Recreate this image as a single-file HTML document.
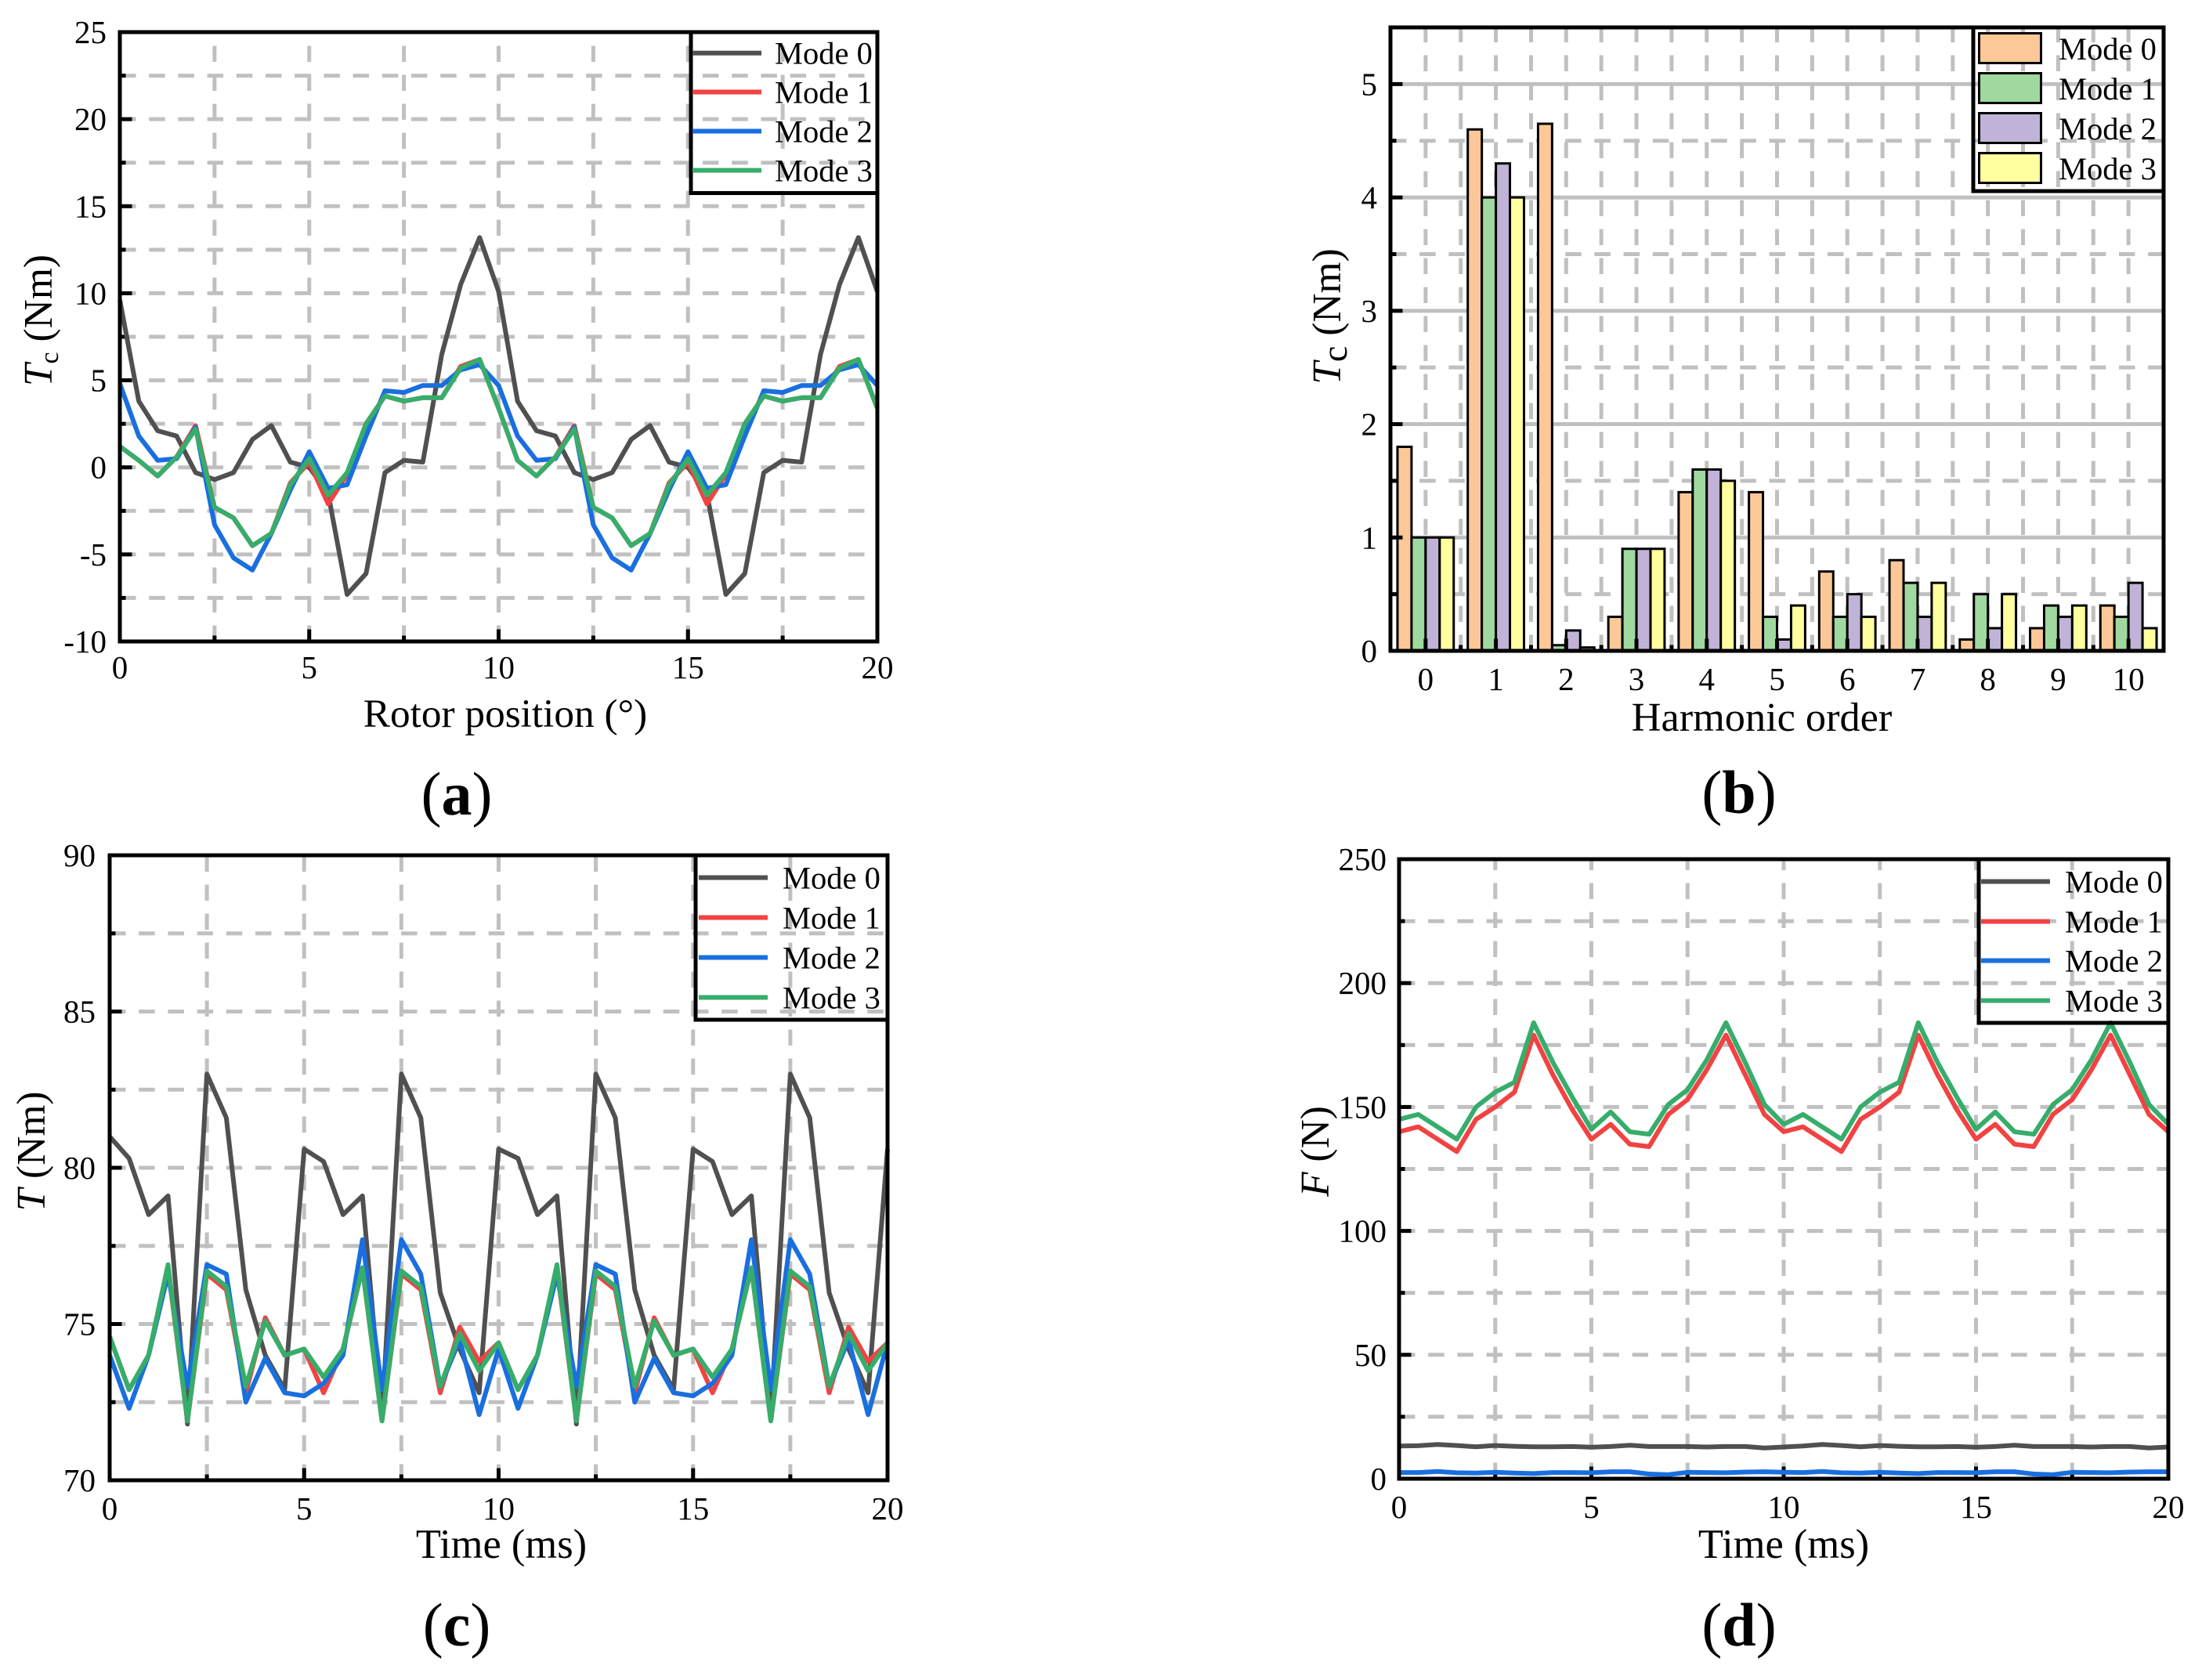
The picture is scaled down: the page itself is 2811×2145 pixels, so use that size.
<!DOCTYPE html>
<html lang="en">
<head>
<meta charset="utf-8">
<title>Torque and force comparison of four modes</title>
<style>
html,body{margin:0;padding:0;background:#fff;}
#figure{display:block;width:2811px;height:2145px;font-family:"Liberation Serif",serif;}
text{font-family:"Liberation Serif",serif;fill:#000;}
</style>
</head>
<body>
<svg id="figure" xmlns="http://www.w3.org/2000/svg" width="2811" height="2145" viewBox="0 0 2811 2145"></svg>
<script>
const modeNames = ["Mode 0", "Mode 1", "Mode 2", "Mode 3"];
const lineColors = ["#505050", "#f24242", "#1a6fdf", "#37ad6b"];
const barColors = ["#fdc897", "#a0d99f", "#c1b3d7", "#ffff9f"];

const sampleX = [0,0.5,1,1.5,2,2.5,3,3.5,4,4.5,5,5.5,6,6.5,7,7.5,8,8.5,9,9.5,10,10.5,11,11.5,12,12.5,13,13.5,14,14.5,15,15.5,16,16.5,17,17.5,18,18.5,19,19.5,20];

const aMode0 = [9.6,3.8,2.1,1.8,-0.3,-0.7,-0.3,1.6,2.4,0.3,0,-1.5,-7.3,-6.1,-0.3,0.4,0.3,6.5,10.5,13.2,10.1,3.8,2.1,1.8,-0.3,-0.7,-0.3,1.6,2.4,0.3,0,-1.5,-7.3,-6.1,-0.3,0.4,0.3,6.5,10.5,13.2,10.1];
const aMode1 = [1.2,0.4,-0.5,0.6,2.4,-2.3,-2.9,-4.5,-3.8,-0.9,0.3,-2.1,-0.4,2.5,4.1,3.8,4,4,5.8,6.2,3.4,0.4,-0.5,0.6,2.4,-2.3,-2.9,-4.5,-3.8,-0.9,0.3,-2.1,-0.4,2.5,4.1,3.8,4,4,5.8,6.2,3.4];
const aMode2 = [4.8,1.8,0.4,0.5,2.3,-3.3,-5.2,-5.9,-3.8,-1.3,0.9,-1.2,-1,1.8,4.4,4.3,4.7,4.7,5.6,5.9,4.7,1.8,0.4,0.5,2.3,-3.3,-5.2,-5.9,-3.8,-1.3,0.9,-1.2,-1,1.8,4.4,4.3,4.7,4.7,5.6,5.9,4.7];
const aMode3 = [1.2,0.4,-0.5,0.6,2.2,-2.3,-2.9,-4.5,-3.8,-1,0.5,-1.6,-0.3,2.5,4.1,3.8,4,4,5.7,6.2,3.4,0.4,-0.5,0.6,2.2,-2.3,-2.9,-4.5,-3.8,-1,0.5,-1.6,-0.3,2.5,4.1,3.8,4,4,5.7,6.2,3.4];

const harmonicOrders = ["0","1","2","3","4","5","6","7","8","9","10"];
const bMode0 = [1.8,4.6,4.65,0.3,1.4,1.4,0.7,0.8,0.1,0.2,0.4];
const bMode1 = [1,4,0.05,0.9,1.6,0.3,0.3,0.6,0.5,0.4,0.3];
const bMode2 = [1,4.3,0.18,0.9,1.6,0.1,0.5,0.3,0.2,0.3,0.6];
const bMode3 = [1,4,0.03,0.9,1.5,0.4,0.3,0.6,0.5,0.4,0.2];

const cMode0 = [81,80.3,78.5,79.1,71.8,83,81.6,76.1,74,72.9,80.6,80.2,78.5,79.1,72,83,81.6,76,74.2,72.8,80.6,80.3,78.5,79.1,71.8,83,81.6,76.1,74,72.9,80.6,80.2,78.5,79.1,72,83,81.6,76,74.2,72.8,80.6];
const cMode1 = [74.6,72.9,74,76.8,71.9,76.6,76.1,72.8,75.2,74,74.2,72.8,74.2,76.8,71.9,76.6,76.1,72.8,74.9,73.8,74.4,72.9,74,76.8,71.9,76.6,76.1,72.8,75.2,74,74.2,72.8,74.2,76.8,71.9,76.6,76.1,72.8,74.9,73.8,74.4];
const cMode2 = [74,72.3,74,76.6,73,76.9,76.6,72.5,73.9,72.8,72.7,73.1,74,77.7,72.9,77.7,76.6,73,74.5,72.1,74.2,72.3,74,76.6,73,76.9,76.6,72.5,73.9,72.8,72.7,73.1,74,77.7,72.9,77.7,76.6,73,74.5,72.1,74.4];
const cMode3 = [74.6,72.9,74,76.9,71.9,76.7,76.2,73,75.1,74,74.2,73.3,74.2,76.8,71.9,76.7,76.2,73,74.7,73.5,74.4,72.9,74,76.9,71.9,76.7,76.2,73,75.1,74,74.2,73.3,74.2,76.8,71.9,76.7,76.2,73,74.7,73.5,74.4];

const dMode0 = [13.2,13.3,13.8,13.4,12.9,13.4,13.1,12.9,12.9,13,12.7,13,13.5,13,13,13,12.8,13,13,12.4,12.8,13.2,13.8,13.4,12.9,13.4,13.1,12.9,12.9,13,12.7,13,13.5,13,13,13,12.8,13,13,12.4,12.8];
const dMode1 = [140,142,137,132,145,150,156,179,163,149,137,143,135,134,147,153,165,179,163,147,140,142,137,132,145,150,156,179,163,149,137,143,135,134,147,153,165,179,163,147,140];
const dMode2 = [2.5,2.5,2.9,2.4,2.3,2.6,2.3,2.1,2.5,2.5,2.4,2.8,2.8,1.9,1.6,2.6,2.5,2.4,2.7,2.8,2.6,2.5,2.9,2.4,2.3,2.6,2.3,2.1,2.5,2.5,2.4,2.8,2.8,1.9,1.6,2.6,2.5,2.4,2.7,2.8,2.8];
const dMode3 = [145,147,142,137,150,156,160,184,168,154,141,148,140,139,151,157,169,184,168,151,143,147,142,137,150,156,160,184,168,154,141,148,140,139,151,157,169,184,168,151,143];

const aMajorY = [-10,-5,0,5,10,15,20,25];
const aMinorY = [-7.5,-2.5,2.5,7.5,12.5,17.5,22.5];
const bMajorY = [0,1,2,3,4,5];
const bMinorY = [0.5,1.5,2.5,3.5,4.5];
const cMajorY = [70,75,80,85,90];
const cMinorY = [72.5,77.5,82.5,87.5];
const dMajorY = [0,50,100,150,200,250];
const dMinorY = [25,75,125,175,225];
const majorX = [0,5,10,15,20];
const minorX = [2.5,7.5,12.5,17.5];

const SVG_NS = "http://www.w3.org/2000/svg";
const root = document.getElementById("figure");

function add(parent, tag, attrs) {
  const node = document.createElementNS(SVG_NS, tag);
  for (const k in attrs) node.setAttribute(k, attrs[k]);
  parent.appendChild(node);
  return node;
}
function linear(d0, d1, r0, r1) {
  return v => r0 + (v - d0) * (r1 - r0) / (d1 - d0);
}
const GRID = "#c0c0c0";
const AXIS_W = 5;
const LINE_W = 6;
const MAJOR_LEN = 15.5;
const MINOR_LEN = 7.5;

function drawGridX(g, x, box) {
  const el = add(g, "line", {x1:x, x2:x, y1:box.b, y2:box.t, stroke:GRID, "stroke-width":5, "stroke-dasharray":"20.5 16.5"});
  
  
}
function drawGridY(g, y, box, solid) {
  const attrs = {x1:box.l, x2:box.r, y1:y, y2:y, stroke:GRID, "stroke-width":5};
  if (!solid) attrs["stroke-dasharray"] = "20.5 16.7";
  const el = add(g, "line", attrs);
  
  
}
function drawTick(g, x1, y1, x2, y2, name) {
  const el = add(g, "line", {x1, y1, x2, y2, stroke:"#000", "stroke-width":AXIS_W});
  
  
}
function drawLabel(g, x, y, str, size, anchor, name) {
  const el = add(g, "text", {x, y, "font-size":size, "text-anchor":anchor});
  el.textContent = str;
  
  
  return el;
}
function drawFrame(g, box) {
  const el = add(g, "rect", {x:box.l, y:box.t, width:box.r-box.l, height:box.b-box.t, fill:"none", stroke:"#000", "stroke-width":AXIS_W});
  
  
}
function drawYTitle(g, x, y, symbol, sub, unit, subSize, subWeight) {
  const el = add(g, "text", {transform:"translate("+x+","+y+") rotate(-90)", "font-size":51.5, "text-anchor":"middle"});
  
  
  const s1 = add(el, "tspan", {"font-style":"italic"});
  s1.textContent = symbol;
  if (sub) {
    const s2 = add(el, "tspan", {"font-size":subSize, dy:8, "font-weight":subWeight});
    s2.textContent = sub;
    const s3 = add(el, "tspan", {dy:-8});
    s3.textContent = " " + unit;
  } else {
    const s3 = add(el, "tspan", {});
    s3.textContent = " " + unit;
  }
}
function drawCaption(g, x, y, letter) {
  const el = add(g, "text", {x, y, "font-size":78, "text-anchor":"middle"});
  
  
  const a = add(el, "tspan", {}); a.textContent = "(";
  const b = add(el, "tspan", {"font-weight":"bold"}); b.textContent = letter;
  const c = add(el, "tspan", {}); c.textContent = ")";
}
function drawLineLegend(g, cfg) {
  const box = add(g, "rect", {x:cfg.l, y:cfg.t, width:cfg.r-cfg.l, height:cfg.b-cfg.t, fill:"none", stroke:"#000", "stroke-width":AXIS_W});
  
  
  modeNames.forEach((name, i) => {
    const y = cfg.rows[i];
    const ln = add(g, "line", {x1:cfg.lx0, x2:cfg.lx1, y1:y, y2:y, stroke:lineColors[i], "stroke-width":LINE_W});
    
    
    drawLabel(g, cfg.tx, y + 14, name, 40.5, "start", "legend-label");
  });
}

function linePanel(cfg) {
  const g = add(root, "g", {});
  
  
  const box = cfg.box;
  const sx = linear(0, 20, box.l, box.r);
  const sy = linear(cfg.yMin, cfg.yMax, box.b, box.t);
  cfg.minorY.concat(cfg.majorY).forEach(v => { if (v > cfg.yMin && v < cfg.yMax) drawGridY(g, sy(v), box, false); });
  minorX.concat(majorX).forEach(v => { if (v > 0 && v < 20) drawGridX(g, sx(v), box); });
  majorX.forEach(v => drawTick(g, sx(v), box.b, sx(v), box.b - MAJOR_LEN, "x-major-tick"));
  minorX.forEach(v => drawTick(g, sx(v), box.b, sx(v), box.b - MINOR_LEN, "x-minor-tick"));
  cfg.majorY.forEach(v => drawTick(g, box.l, sy(v), box.l + MAJOR_LEN, sy(v), "y-major-tick"));
  cfg.minorY.forEach(v => drawTick(g, box.l, sy(v), box.l + MINOR_LEN, sy(v), "y-minor-tick"));
  cfg.series.forEach((vals, i) => {
    const pts = vals.map((v, j) => sx(sampleX[j]).toFixed(1) + "," + sy(v).toFixed(1)).join(" ");
    const pl = add(g, "polyline", {points:pts, fill:"none", stroke:lineColors[i], "stroke-width":LINE_W, "stroke-linejoin":"round"});
    
    
  });
  drawFrame(g, box);
  majorX.forEach(v => drawLabel(g, sx(v), cfg.xLabelY, String(v), 41, "middle", "x-tick-label"));
  cfg.majorY.forEach(v => drawLabel(g, cfg.yLabelX, sy(v) + 14, String(v), 41, "end", "y-tick-label"));
  drawLabel(g, cfg.xTitleX, cfg.xTitleY, cfg.xTitle, cfg.xTitleSize, "middle", "x-axis-title");
  drawYTitle(g, cfg.yTitleX, cfg.yTitleY, cfg.ySym, cfg.ySub, cfg.yUnit, 34, "normal");
  drawLineLegend(g, cfg.legend);
  drawCaption(g, cfg.capX, cfg.capY, cfg.letter);
}

linePanel({
  name:"panel-a-cogging-torque", letter:"a", box:{l:153, r:1120, t:41, b:819},
  yMin:-10, yMax:25, majorY:aMajorY, minorY:aMinorY,
  series:[aMode0, aMode1, aMode2, aMode3],
  xLabelY:866, yLabelX:136, xTitle:"Rotor position (°)", xTitleSize:51.3, xTitleX:645, xTitleY:928,
  yTitleX:66, yTitleY:409, ySym:"T", ySub:"c", yUnit:"(Nm)",
  legend:{l:882, r:1120, t:41, b:246.5, lx0:884, lx1:972, tx:989, rows:[67.7,117.5,167.5,217.5]},
  capX:583, capY:1040
});

linePanel({
  name:"panel-c-output-torque", letter:"c", box:{l:140, r:1133, t:1092, b:1890},
  yMin:70, yMax:90, majorY:cMajorY, minorY:cMinorY,
  series:[cMode0, cMode1, cMode2, cMode3],
  xLabelY:1940, yLabelX:122, xTitle:"Time (ms)", xTitleSize:52.5, xTitleX:640, xTitleY:1989,
  yTitleX:57, yTitleY:1470, ySym:"T", ySub:"", yUnit:"(Nm)",
  legend:{l:888, r:1133, t:1092, b:1302, lx0:892, lx1:980, tx:999, rows:[1120.5,1171.5,1222.5,1273.5]},
  capX:583, capY:2101
});

linePanel({
  name:"panel-d-force", letter:"d", box:{l:1786, r:2768, t:1097, b:1888},
  yMin:0, yMax:250, majorY:dMajorY, minorY:dMinorY,
  series:[dMode0, dMode1, dMode2, dMode3],
  xLabelY:1938, yLabelX:1770, xTitle:"Time (ms)", xTitleSize:52.5, xTitleX:2277, xTitleY:1989,
  yTitleX:1696, yTitleY:1470, ySym:"F", ySub:"", yUnit:"(N)",
  legend:{l:2526, r:2768, t:1097, b:1306, lx0:2529, lx1:2617, tx:2636, rows:[1125.5,1176.5,1226.5,1277.5]},
  capX:2220, capY:2101
});

(function barPanel() {
  const g = add(root, "g", {});
  
  
  const box = {l:1775, r:2762, t:35, b:831};
  const sx = linear(-0.5, 10.5, box.l, box.r);
  const sy = linear(0, 5.5, box.b, box.t);
  const series = [bMode0, bMode1, bMode2, bMode3];
  const barW = 0.2;
  bMajorY.forEach(v => { if (v > 0) drawGridY(g, sy(v), box, true); });
  bMinorY.forEach(v => drawGridY(g, sy(v), box, false));
  harmonicOrders.forEach((h, i) => {
    drawGridX(g, sx(i), box);
    if (i < harmonicOrders.length - 1) drawGridX(g, sx(i + 0.5), box);
  });
  series.forEach((vals, s) => {
    vals.forEach((v, i) => {
      const x0 = sx(i - 0.4 + s * barW);
      const x1 = sx(i - 0.4 + (s + 1) * barW);
      const r = add(g, "rect", {x:x0, y:sy(v), width:x1 - x0, height:box.b - sy(v), fill:barColors[s], stroke:"#000", "stroke-width":3});
      
      
    });
  });
  harmonicOrders.forEach((h, i) => {
    drawTick(g, sx(i), box.b, sx(i), box.b - MAJOR_LEN, "x-major-tick");
    if (i < harmonicOrders.length - 1) drawTick(g, sx(i + 0.5), box.b, sx(i + 0.5), box.b - MINOR_LEN, "x-minor-tick");
    drawLabel(g, sx(i), 881, h, 41, "middle", "x-tick-label");
  });
  bMajorY.forEach(v => {
    drawTick(g, box.l, sy(v), box.l + MAJOR_LEN, sy(v), "y-major-tick");
    drawLabel(g, 1758, sy(v) + 14, String(v), 41, "end", "y-tick-label");
  });
  bMinorY.forEach(v => drawTick(g, box.l, sy(v), box.l + MINOR_LEN, sy(v), "y-minor-tick"));
  drawFrame(g, box);
  drawLabel(g, 2249, 933, "Harmonic order", 52.3, "middle", "x-axis-title");
  drawYTitle(g, 1711, 404, "T", "c", "(Nm)", 46, "normal");
  const lg = add(g, "rect", {x:2519, y:35, width:243, height:209, fill:"none", stroke:"#000", "stroke-width":AXIS_W});
  
  
  const swatchTop = 41, swatchPitch = 51;
  modeNames.forEach((name, i) => {
    const sw = add(g, "rect", {x:2526.5, y:swatchTop + 1.5 + i * swatchPitch, width:79, height:38, fill:barColors[i], stroke:"#000", "stroke-width":3});
    
    
    drawLabel(g, 2628, 76 + i * swatchPitch, name, 40.5, "start", "legend-label");
  });
  drawCaption(g, 2220, 1038, "b");
})();
</script>
</body>
</html>
